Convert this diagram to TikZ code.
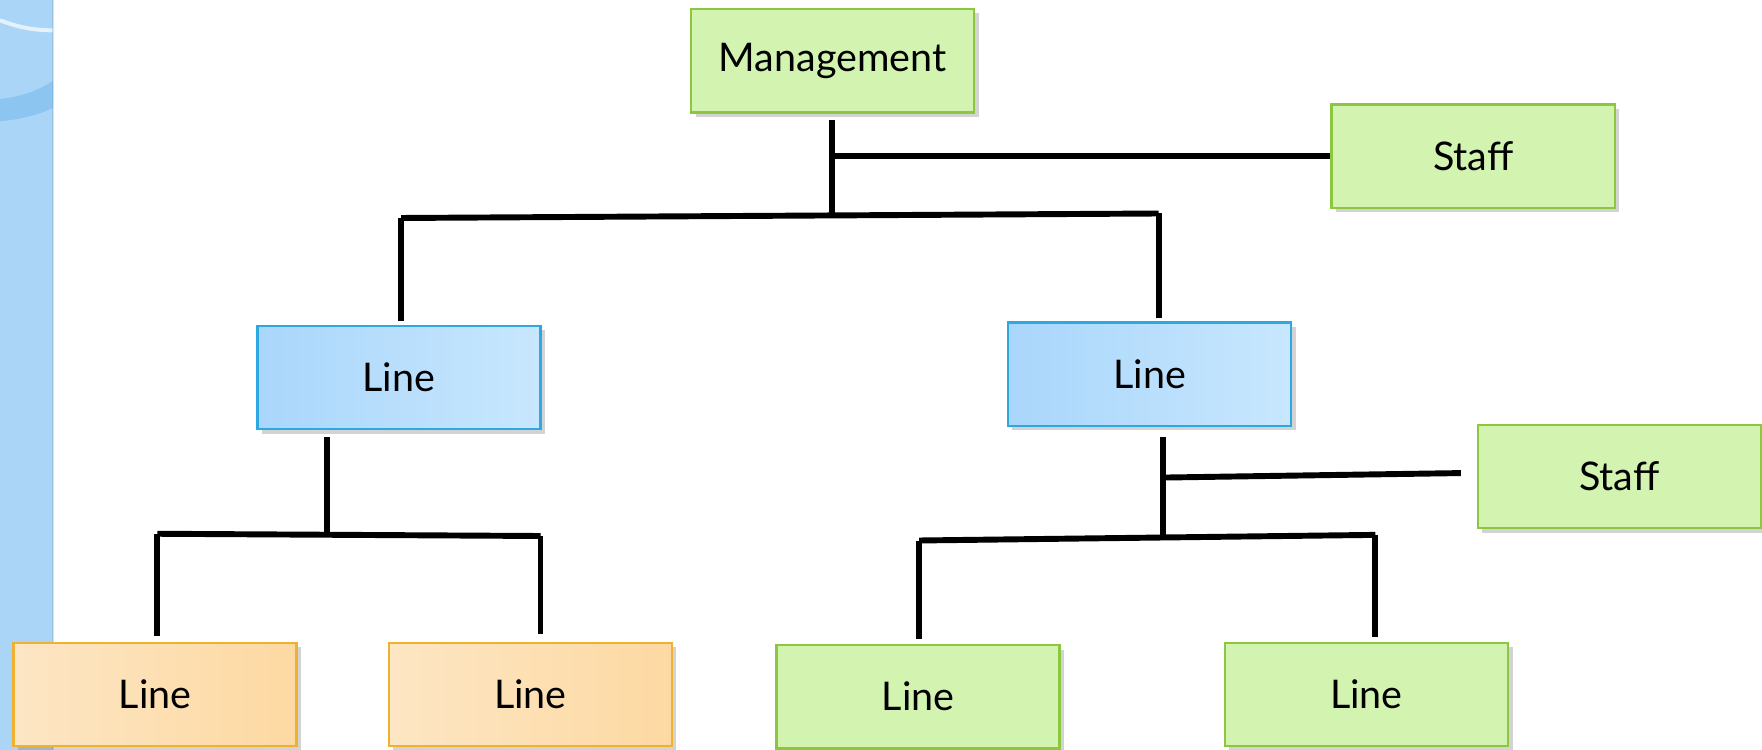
\documentclass[tikz,border=0pt]{standalone}
\usepackage{fontspec}
\setmainfont{Lato}
\usetikzlibrary{shadows}

\definecolor{greenedge}{HTML}{8DC63F}
\definecolor{greenleft}{HTML}{D3F3B0}
\definecolor{greenright}{HTML}{E4F8CF}
\definecolor{blueedge}{HTML}{2DA8E0}
\definecolor{blueleft}{HTML}{A9D6FB}
\definecolor{blueright}{HTML}{C8E7FE}
\definecolor{orangeedge}{HTML}{EFB132}
\definecolor{orangeleft}{HTML}{FDE6C4}
\definecolor{orangeright}{HTML}{FDD9A2}
\definecolor{stripblue}{HTML}{ABD5F6}
\definecolor{stripdark}{HTML}{8CC6F0}

\begin{document}
\begin{tikzpicture}[
    x = 0.1mm,
    y = -0.1mm,
    box/.style = {rectangle, minimum width=25.2mm, minimum height=9.2mm,
              inner sep=0pt, line width=0.6pt, font=\fontsize{10}{12}\selectfont,
              drop shadow={shadow xshift=0.4mm, shadow yshift=-0.4mm, opacity=0.35}},
    greenbox/.style = {box, draw=greenedge, left color=greenleft, middle color=greenright, right color=greenleft},
    bluebox/.style = {box, draw=blueedge, left color=blueleft, right color=blueright},
    orangebox/.style = {box, draw=orangeedge, left color=orangeleft, right color=orangeright},
    conn/.style = {black, line width=1.5pt},
    ]

\useasboundingbox (0,0) rectangle (1568,667);

% side strip
\fill[stripblue] (0,0) rectangle (47,667);
\fill[stripdark] (0,88) .. controls (20,86) and (35,80) .. (47,72) -- (47,96) .. controls (35,102) and (20,106) .. (0,108) -- cycle;
\draw[white, opacity=0.7, line width=1pt] (0,18) .. controls (15,24) and (30,27) .. (47,27);
\draw[stripdark!70!black, opacity=0.25, line width=0.6pt] (47,0) -- (47,667);

% boxes
\node[greenbox] (mgmt) at (741,54) {Management};
\node[greenbox] (staffA) at (1311,139) {Staff};
\node[bluebox] (lineL) at (355,336) {Line};
\node[bluebox] (lineR) at (1023,333) {Line};
\node[greenbox] (staffB) at (1441,424) {Staff};
\node[orangebox] (lineLA) at (138,618) {Line};
\node[orangebox] (lineLB) at (472,618) {Line};
\node[greenbox] (lineRA) at (817,620) {Line};
\node[greenbox] (lineRB) at (1216,618) {Line};

% junctions
\coordinate (topstem) at (740,191);
\coordinate (staffjoinA) at (740,139);
\coordinate (topbarL) at (357,194);
\coordinate (topbarR) at (1031,190);
\coordinate (stemL) at (291,476);
\coordinate (barLA) at (140,475);
\coordinate (barLB) at (481,477);
\coordinate (stemR) at (1035,478);
\coordinate (staffjoinB) at (1035,425);
\coordinate (staffendB) at (1300,421);
\coordinate (barRA) at (818,481);
\coordinate (barRB) at (1224,476);

% upper level
\draw[conn, shorten <=0.6mm] (mgmt.south -| topstem) -- (topstem);
\draw[conn] (staffjoinA) -- (staffA.west);
\draw[conn] (topbarL) -- (topbarR);
\draw[conn, shorten >=0.3mm] (topbarL) -- (topbarL |- lineL.north);
\draw[conn, shorten >=0.3mm] (topbarR) -- (topbarR |- lineR.north);

% left branch
\draw[conn, shorten <=0.6mm] (lineL.south -| stemL) -- (stemL);
\draw[conn] (barLA) -- (barLB);
\draw[conn, shorten >=0.5mm] (barLA) -- (barLA |- lineLA.north);
\draw[conn, shorten >=0.7mm] (barLB) -- (barLB |- lineLB.north);

% right branch
\draw[conn, shorten <=0.9mm] (lineR.south -| stemR) -- (stemR);
\draw[conn] (staffjoinB) -- (staffendB);
\draw[conn] (barRA) -- (barRB);
\draw[conn, shorten >=0.4mm] (barRA) -- (barRA |- lineRA.north);
\draw[conn, shorten >=0.4mm] (barRB) -- (barRB |- lineRB.north);

\end{tikzpicture}
\end{document}
